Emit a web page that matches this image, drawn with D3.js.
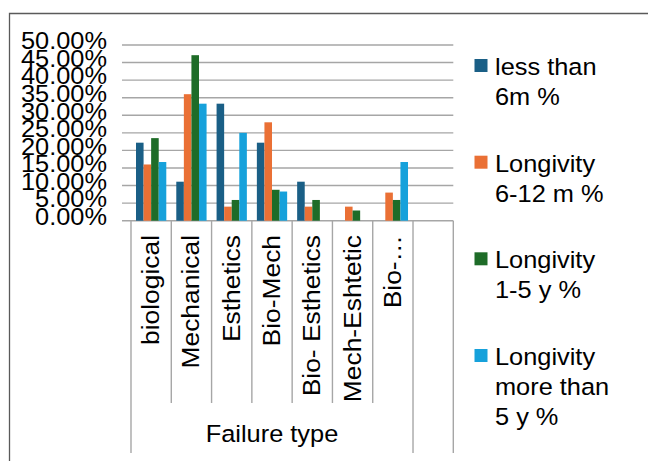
<!DOCTYPE html>
<html>
<head>
<meta charset="utf-8">
<script src="https://cdn.jsdelivr.net/npm/d3@7"></script>
<style>
  html, body { margin: 0; padding: 0; background: #fff; }
  svg { display: block; }
  text { font-family: "Liberation Sans", Arial, sans-serif; fill: #000; }
</style>
</head>
<body>
<svg id="chart" width="648" height="461"></svg>
<script>
// ---- data ----
const categories = ["biological", "Mechanical", "Esthetics", "Bio-Mech", "Bio- Esthetics", "Mech-Eshtetic", "Bio-…", ""];
const groupLabel = "Failure type";
const seriesNames = ["less than 6m %", "Longivity 6-12 m %", "Longivity 1-5 y %", "Longivity more than 5 y %"];
const legendLines = [["less than", "6m %"], ["Longivity", "6-12 m %"], ["Longivity", "1-5 y %"], ["Longivity", "more than", "5 y %"]];
const lessThan6m   = [22.2, 11.1, 33.3, 22.2, 11.1, 0, 0, null];
const months6to12  = [16, 36, 4, 28, 4, 4, 8, null];
const years1to5    = [23.5, 47.1, 5.9, 8.8, 5.9, 2.9, 5.9, null];
const moreThan5y   = [16.7, 33.3, 25, 8.3, 0, 0, 16.7, null];
const seriesValues = [lessThan6m, months6to12, years1to5, moreThan5y];
const yTicks = [0, 5, 10, 15, 20, 25, 30, 35, 40, 45, 50];
const colors = ["#1a5f86", "#ea7035", "#1e6c28", "#16a1db"];

// ---- layout ----
const svg = d3.select("#chart");
const plotTop = 45, plotBottom = 220.7, plotLeft = 131, plotRight = 453.3;
const namedCount = 7;

const y = d3.scaleLinear().domain([0, 50]).range([plotBottom, plotTop]);
const x = d3.scaleBand().domain(categories.map((c, i) => i)).range([plotLeft, plotRight]).padding(0);
const bw = x.bandwidth();
const x1 = d3.scaleBand().domain(d3.range(seriesNames.length)).range([5, bw - 5]).padding(0);

// outer border
svg.append("path")
  .attr("d", "M9.5,470 V13.5 H660")
  .attr("fill", "none").attr("stroke", "#5a5a5a").attr("stroke-width", 1.3);

// gridlines + tick marks
svg.append("g").selectAll("line").data(yTicks).join("line")
  .attr("x1", plotLeft - 9).attr("x2", plotRight)
  .attr("y1", d => y(d)).attr("y2", d => y(d))
  .attr("stroke", "#a6a6a6").attr("stroke-width", 1.4);

// y axis labels (via d3 axis)
const yAxis = d3.axisLeft(y).tickValues(yTicks).tickSize(0).tickPadding(0)
  .tickFormat(d => d3.format(".2f")(d) + "%");
const gy = svg.append("g").attr("transform", `translate(${plotLeft - 24},0)`).call(yAxis);
gy.select(".domain").remove();
gy.attr("font-family", null).attr("font-size", null);
gy.selectAll(".tick text")
  .attr("x", 0)
  .attr("dy", "0.16em")
  .attr("font-size", 23.5)
  .attr("fill", "#000")
  .attr("transform", "scale(1.08,1)");

// vertical category separator lines
const bounds = d3.range(categories.length + 1).map(i => i < categories.length ? x(i) : plotRight);
svg.append("g").selectAll("line").data(bounds).join("line")
  .attr("x1", d => d).attr("x2", d => d)
  .attr("y1", plotBottom)
  .attr("y2", (d, i) => (i === 0 || i >= namedCount) ? 453 : 403)
  .attr("stroke", "#a6a6a6").attr("stroke-width", 1.4);

// bars
const g = svg.append("g");
seriesValues.forEach((vals, s) => {
  g.append("g").selectAll("rect")
    .data(vals.map((v, i) => ({ v, i })).filter(d => d.v != null && d.v > 0))
    .join("rect")
    .attr("x", d => x(d.i) + x1(s))
    .attr("width", x1.bandwidth())
    .attr("y", d => y(d.v))
    .attr("height", d => y(0) - y(d.v))
    .attr("fill", colors[s]);
});

// category labels
svg.append("g").selectAll("text").data(categories.slice(0, namedCount)).join("text")
  .attr("transform", (d, i) => `translate(${x(i) + bw / 2 + 8},235) rotate(-90) scale(1.1,1)`)
  .attr("text-anchor", "end")
  .attr("font-size", 24)
  .text(d => d);

// group label
svg.append("text")
  .attr("transform", `translate(${(plotLeft + x(namedCount)) / 2},442) scale(1.08,1)`)
  .attr("text-anchor", "middle")
  .attr("font-size", 23.5)
  .text(groupLabel);

// legend
const leg = svg.append("g");
const legTop = [75, 171.7, 268.3, 365];
legendLines.forEach((lines, s) => {
  const base = legTop[s];
  leg.append("rect")
    .attr("x", 474.5).attr("y", base - 16)
    .attr("width", 13).attr("height", 13)
    .attr("fill", colors[s]);
  const t = leg.append("text")
    .attr("transform", `translate(495,${base}) scale(1.08,1)`)
    .attr("font-size", 23.5);
  lines.forEach((ln, k) => {
    t.append("tspan").attr("x", 0).attr("y", k * 30).text(ln);
  });
});
</script>
</body>
</html>
